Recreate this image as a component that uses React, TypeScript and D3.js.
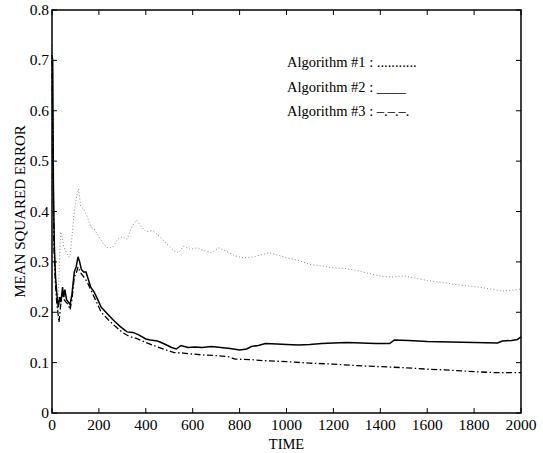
import React, { useEffect, useRef } from 'react';
import * as d3 from 'd3';

// Algorithm #1 (dotted)
const alg1Time = [0, 4, 8, 14, 20, 25, 30, 37, 43, 50, 60, 70, 77, 85, 95, 105, 113, 122, 135, 150, 165, 180, 200, 220, 240, 260, 280, 300, 320, 340, 360, 380, 400, 430, 460, 490, 520, 540, 560, 590, 620, 650, 680, 710, 740, 780, 815, 860, 900, 925, 960, 1000, 1050, 1100, 1150, 1200, 1250, 1300, 1350, 1412, 1450, 1500, 1550, 1600, 1650, 1710, 1760, 1820, 1870, 1923, 1960, 2000];
const alg1Mse = [0.73, 0.6, 0.4, 0.28, 0.22, 0.2, 0.28, 0.36, 0.35, 0.33, 0.32, 0.31, 0.31, 0.35, 0.4, 0.43, 0.445, 0.41, 0.405, 0.39, 0.37, 0.365, 0.35, 0.335, 0.327, 0.33, 0.345, 0.35, 0.345, 0.37, 0.383, 0.37, 0.36, 0.362, 0.35, 0.335, 0.322, 0.318, 0.331, 0.325, 0.328, 0.322, 0.318, 0.328, 0.322, 0.312, 0.308, 0.31, 0.315, 0.318, 0.314, 0.308, 0.303, 0.295, 0.292, 0.288, 0.287, 0.283, 0.277, 0.271, 0.27, 0.272, 0.268, 0.263, 0.26, 0.256, 0.253, 0.25, 0.246, 0.242, 0.244, 0.246];

// Algorithm #2 (solid)
const alg2Time = [0, 3, 6, 10, 15, 20, 27, 33, 38, 45, 50, 55, 62, 70, 77, 85, 95, 103, 111, 118, 125, 135, 145, 155, 165, 180, 195, 210, 230, 260, 290, 320, 345, 370, 400, 420, 450, 480, 510, 530, 550, 580, 610, 640, 680, 720, 760, 800, 830, 850, 880, 910, 960, 1000, 1050, 1100, 1150, 1200, 1260, 1320, 1380, 1440, 1460, 1520, 1600, 1700, 1800, 1900, 1920, 1960, 1985, 2000];
const alg2Mse = [0.71, 0.7, 0.45, 0.33, 0.27, 0.24, 0.21, 0.23, 0.22, 0.25, 0.23, 0.245, 0.225, 0.22, 0.215, 0.235, 0.28, 0.29, 0.31, 0.3, 0.285, 0.28, 0.28, 0.265, 0.25, 0.24, 0.225, 0.21, 0.2, 0.185, 0.172, 0.161, 0.16, 0.155, 0.147, 0.145, 0.143, 0.137, 0.13, 0.127, 0.134, 0.13, 0.131, 0.13, 0.132, 0.13, 0.128, 0.125, 0.127, 0.132, 0.134, 0.138, 0.137, 0.136, 0.135, 0.136, 0.138, 0.139, 0.14, 0.139, 0.138, 0.138, 0.145, 0.144, 0.142, 0.141, 0.14, 0.139, 0.143, 0.144, 0.146, 0.151];

// Algorithm #3 (dash-dot)
const alg3Time = [0, 4, 8, 14, 20, 30, 36, 45, 52, 60, 70, 77, 85, 95, 105, 111, 120, 135, 150, 170, 190, 210, 240, 270, 300, 330, 360, 400, 440, 480, 520, 560, 600, 650, 700, 750, 780, 850, 900, 1000, 1100, 1200, 1300, 1400, 1500, 1600, 1700, 1800, 1900, 2000];
const alg3Mse = [0.7, 0.5, 0.33, 0.26, 0.22, 0.18, 0.21, 0.24, 0.225, 0.22, 0.215, 0.205, 0.225, 0.27, 0.28, 0.29, 0.28, 0.27, 0.26, 0.24, 0.22, 0.2, 0.185, 0.172, 0.16, 0.152, 0.148, 0.14, 0.133, 0.126, 0.12, 0.119, 0.117, 0.115, 0.114, 0.112, 0.107, 0.106, 0.104, 0.102, 0.099, 0.097, 0.094, 0.092, 0.09, 0.087, 0.085, 0.082, 0.08, 0.08];

const xTicks = [0, 200, 400, 600, 800, 1000, 1200, 1400, 1600, 1800, 2000];
const yTicks = [0, 0.1, 0.2, 0.3, 0.4, 0.5, 0.6, 0.7, 0.8];
const legendLabels = ['Algorithm #1 : ...........', 'Algorithm #2 : ____', 'Algorithm #3 : \u2013.\u2013.\u2013.'];

const App = () => {
  const ref = useRef<SVGSVGElement>(null);

  useEffect(() => {
    const svg = d3.select(ref.current);
    svg.selectAll('*').remove();

    const left = 52, right = 521, top = 10, bottom = 413;
    const font = '"Liberation Serif", "Times New Roman", serif';

    const x = d3.scaleLinear().domain([0, 2000]).range([left, right]);
    const y = d3.scaleLinear().domain([0, 0.8]).range([bottom, top]);

    // series
    const series = [
      { t: alg1Time, v: alg1Mse, color: '#888', width: 1, dash: '1,2.2' },
      { t: alg3Time, v: alg3Mse, color: '#000', width: 1.3, dash: '6,2.5,1.5,2.5' },
      { t: alg2Time, v: alg2Mse, color: '#000', width: 1.5, dash: null },
    ];
    const line = d3.line<[number, number]>().x(d => x(d[0])).y(d => y(d[1]));
    series.forEach(s => {
      const pts = s.t.map((t, i) => [t, s.v[i]] as [number, number]);
      svg.append('path')
        .attr('d', line(pts))
        .attr('fill', 'none')
        .attr('stroke', s.color)
        .attr('stroke-width', s.width)
        .attr('stroke-dasharray', s.dash);
    });

    // frame
    svg.append('rect')
      .attr('x', left).attr('y', top)
      .attr('width', right - left).attr('height', bottom - top)
      .attr('fill', 'none').attr('stroke', '#000').attr('stroke-width', 1.5);

    // ticks, all inward
    const tl = 5;
    xTicks.forEach(t => {
      svg.append('line').attr('x1', x(t)).attr('x2', x(t)).attr('y1', bottom).attr('y2', bottom - tl).attr('stroke', '#000');
      svg.append('line').attr('x1', x(t)).attr('x2', x(t)).attr('y1', top).attr('y2', top + tl).attr('stroke', '#000');
      svg.append('text')
        .attr('x', x(t)).attr('y', bottom + 17)
        .attr('text-anchor', 'middle')
        .attr('font-family', font).attr('font-size', 15.5)
        .text(t);
    });
    yTicks.forEach(v => {
      svg.append('line').attr('x1', left).attr('x2', left + tl).attr('y1', y(v)).attr('y2', y(v)).attr('stroke', '#000');
      svg.append('line').attr('x1', right).attr('x2', right - tl).attr('y1', y(v)).attr('y2', y(v)).attr('stroke', '#000');
      svg.append('text')
        .attr('x', left - 3).attr('y', y(v) + 5)
        .attr('text-anchor', 'end')
        .attr('font-family', font).attr('font-size', 15.5)
        .text(v === 0 ? '0' : d3.format('.1f')(v));
    });

    // axis titles
    svg.append('text')
      .attr('x', (left + right) / 2).attr('y', 449)
      .attr('text-anchor', 'middle')
      .attr('font-family', font).attr('font-size', 14.5)
      .text('TIME');
    svg.append('text')
      .attr('transform', `translate(25,${(top + bottom) / 2}) rotate(-90)`)
      .attr('text-anchor', 'middle')
      .attr('font-family', font).attr('font-size', 15)
      .text('MEAN SQUARED ERROR');

    // legend text
    legendLabels.forEach((l, i) => {
      svg.append('text')
        .attr('x', 287).attr('y', 67 + i * 24.5)
        .attr('font-family', font).attr('font-size', 14.5)
        .text(l);
    });
  }, []);

  return (
    <svg ref={ref} width={543} height={453}
      style={{ position: 'absolute', left: 0, top: 0, background: '#fff' }} />
  );
};

export default App;
